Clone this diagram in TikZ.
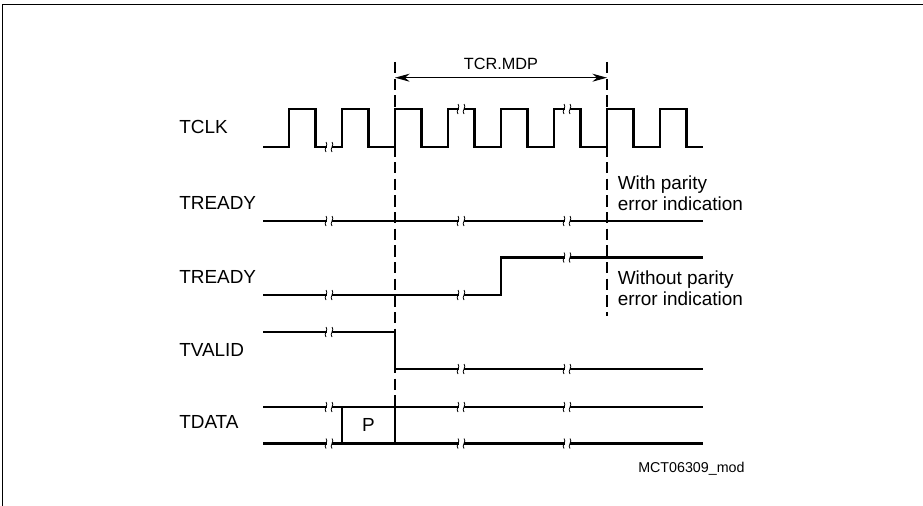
\documentclass[tikz,border=0pt]{standalone}
\usepackage{fontspec}
\setmainfont{Liberation Sans}
\usetikzlibrary{arrows.meta}
% break mark on a signal line
\newcommand{\sigbreak}[2]{%
  \fill[white] (#1-2.5,#2-2.5) rectangle (#1+2.5,#2+2.5);
  \draw[brk] (#1-3,#2-5) .. controls (#1,#2-2) and (#1-6,#2+2) .. (#1-3,#2+5);
  \draw[brk] (#1+3,#2-5) .. controls (#1+6,#2-2) and (#1,#2+2) .. (#1+3,#2+5);}

\begin{document}
\begin{tikzpicture}[
    x=0.75pt, y=-0.75pt,
    sig/.style={line width=1.7pt},
    guide/.style={line width=0.9pt, dash pattern=on 8.5pt off 4pt},
    dim/.style={{Stealth[length=11pt,width=6pt]}-{Stealth[length=11pt,width=6pt]}, line width=0.75pt},
    lbl/.style={anchor=base west, inner sep=0pt, align=left, font=\fontsize{14.2}{15.75}\selectfont},
    brk/.style={line width=0.6pt},
    frame/.style={line width=0.75pt}
]
    \useasboundingbox (0,0) rectangle (923,506);
    \draw[frame] (2.5,506) -- (2.5,5) -- (923,5);

    % Signal names
    \node[lbl] (tclk) at (179,133.3) {TCLK};
    \node[lbl] (treadyA) at (179,209) {TREADY};
    \node[lbl] (treadyB) at (179,283) {TREADY};
    \node[lbl] (tvalid) at (179,356) {TVALID};
    \node[lbl] (tdata) at (179,428) {TDATA};

    % Notes
    \node[lbl] (withpar) at (617.5,210) {With parity\\error indication};
    \node[lbl] (withoutpar) at (617.5,305) {Without parity\\error indication};
    \node[lbl, font=\fontsize{10.7}{12}\selectfont] (figid) at (638,472.3) {MCT06309\_mod};

    % Timeout window
    \coordinate (mdpTopL) at (395,62);
    \coordinate (mdpBotL) at (395,407);
    \coordinate (mdpTopR) at (607,62);
    \coordinate (mdpBotR) at (607,316);
    \coordinate (arL) at (395,77.7);
    \coordinate (arR) at (607,77.7);
    \draw[guide] (mdpTopL) -- (mdpBotL);
    \draw[guide] (mdpTopR) -- (mdpBotR);
    \draw[dim] (arL) -- (arR);
    \node[anchor=base, inner sep=0pt, font=\fontsize{12.2}{14}\selectfont] (mdp) at (501,70) {TCR.MDP};

    % Waveforms
    \draw[sig] (263,147) -- (289,147) -- (289,109) -- (315.5,109) -- (315.5,147) -- (342,147) -- (342,109)
        -- (368.5,109) -- (368.5,147) -- (395,147) -- (395,109) -- (421.5,109) -- (421.5,147) -- (448,147)
        -- (448,109) -- (474.5,109) -- (474.5,147) -- (501,147) -- (501,109) -- (527.5,109) -- (527.5,147)
        -- (554,147) -- (554,109) -- (580.5,109) -- (580.5,147) -- (607,147) -- (607,109) -- (633.5,109)
        -- (633.5,147) -- (660,147) -- (660,109) -- (686.5,109) -- (686.5,147) -- (703,147);
    \draw[sig] (263,221) -- (703,221);
    \draw[sig] (263,295) -- (501,295) -- (501,257.5) -- (703,257.5);
    \draw[sig] (263,332) -- (395,332) -- (395,369) -- (703,369);
    \draw[sig] (263,407) -- (703,407);
    \draw[sig] (263,443.5) -- (703,443.5);
    \draw[sig] (342,407) -- (342,443.5);
    \draw[sig] (395,407) -- (395,443.5);
    \node[inner sep=0pt, font=\fontsize{14.2}{15.75}\selectfont] (pbox) at (368.5,425) {P};

    % Breaks
    \sigbreak{329}{147} \sigbreak{461}{109} \sigbreak{567}{109}
    \sigbreak{329}{221} \sigbreak{461}{221} \sigbreak{567}{221}
    \sigbreak{329}{295} \sigbreak{461}{295} \sigbreak{567}{257.5}
    \sigbreak{329}{332} \sigbreak{461}{369} \sigbreak{567}{369}
    \sigbreak{329}{407} \sigbreak{461}{407} \sigbreak{567}{407}
    \sigbreak{329}{443.5} \sigbreak{461}{443.5} \sigbreak{567}{443.5}
\end{tikzpicture}
\end{document}
